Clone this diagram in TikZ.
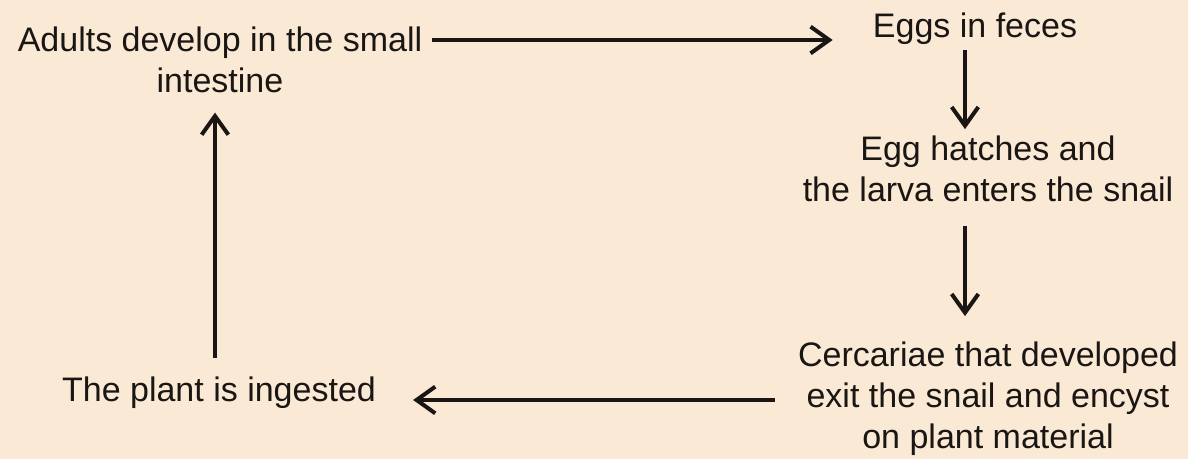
\documentclass[tikz,border=0pt]{standalone}
\usepackage{fontspec}
\setmainfont{Liberation Sans}
\usetikzlibrary{arrows.meta}
\definecolor{peach}{RGB}{250,233,212}
\definecolor{ink}{RGB}{26,22,20}
\tikzset{lbl/.style={align=center,inner sep=0pt,text=ink,anchor=base,
    font=\fontsize{25.5}{30.75}\selectfont},
  arr/.style={draw=ink,line width=3pt,-{Straight Barb[length=14pt,width=20pt]}}}
\begin{document}
\begin{tikzpicture}[x=.75pt,y=-.75pt]
  \fill[peach] (0,0) rectangle (1188,459);
  \useasboundingbox (0,0) rectangle (1188,459);
  % base = baseline of the last line
  \node[lbl] (adults) at (220,93) {Adults develop in the small\\intestine};
  \node[lbl] (eggs) at (975,38) {Eggs in feces};
  \node[lbl] (hatch) at (988,202) {Egg hatches and\\the larva enters the snail};
  \node[lbl] (cerc) at (988,448) {Cercariae that developed\\exit the snail and encyst\\on plant material};
  \node[lbl] (plant) at (219,402) {The plant is ingested};
  % the cycle
  \draw[arr] ([shift={(10,-53)}]adults.base east) -- ([shift={(-40,2)}]eggs.base west);
  \draw[arr] ([shift={(-10,5)}]eggs.south) -- ([shift={(-23,-7)}]hatch.north);
  \draw[arr] ([shift={(-23,23)}]hatch.south) -- ([shift={(-23,-25)}]cerc.north);
  \draw[arr] ([shift={(-23,-48)}]cerc.base west) -- ([shift={(37,-2)}]plant.base east);
  \draw[arr] ([shift={(-4,-19)}]plant.north) -- ([shift={(-5,19)}]adults.south);
\end{tikzpicture}
\end{document}
